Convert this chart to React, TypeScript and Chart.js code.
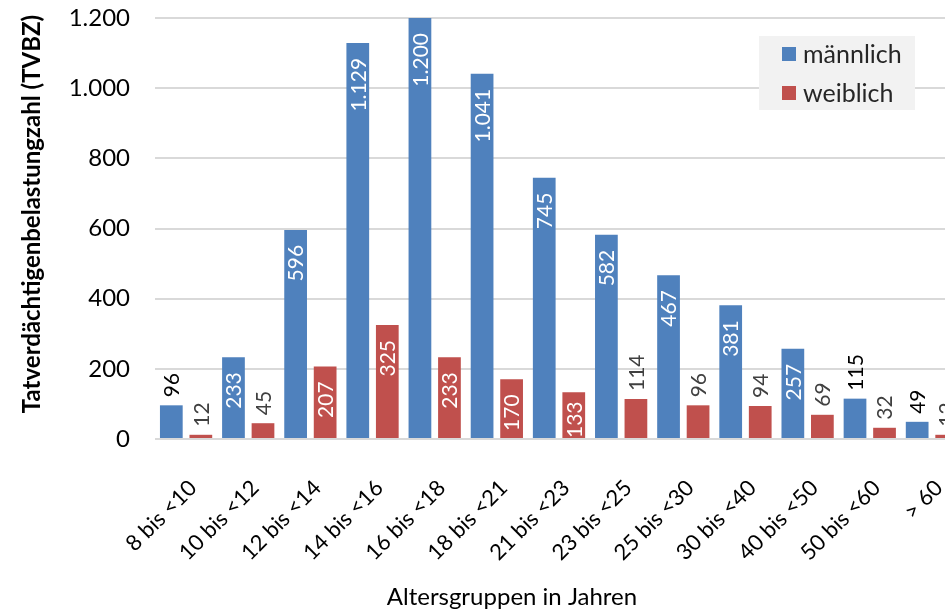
import React, { useEffect, useRef } from "react";
import { Chart, registerables } from "chart.js";

Chart.register(...registerables);

const categories = [
  "8 bis <10", "10 bis <12", "12 bis <14", "14 bis <16", "16 bis <18", "18 bis <21",
  "21 bis <23", "23 bis <25", "25 bis <30", "30 bis <40", "40 bis <50", "50 bis <60", "> 60",
];
const maleValues = [96, 233, 596, 1129, 1200, 1041, 745, 582, 467, 381, 257, 115, 49];
const femaleValues = [12, 45, 207, 325, 233, 170, 133, 114, 96, 94, 69, 32, 12];
const seriesNames = ["männlich", "weiblich"];
const yTicks = [0, 200, 400, 600, 800, 1000, 1200];
const yTitle = "Tatverdächtigenbelastungzahl (TVBZ)";
const xTitle = "Altersgruppen in Jahren";

const BLUE = "#4F81BD";
const RED = "#C0504D";
const FONT = "Lato, 'Open Sans', sans-serif";

const fmt = (v: number) => String(v).replace(/\B(?=(\d{3})+(?!\d))/g, ".");

const labelPlugin = {
  id: "barLabels",
  afterDatasetsDraw(chart: any) {
    const ctx = chart.ctx;
    ctx.save();
    ctx.font = `21px ${FONT}`;
    chart.data.datasets.forEach((ds: any, di: number) => {
      const meta = chart.getDatasetMeta(di);
      meta.data.forEach((el: any, i: number) => {
        const v = ds.data[i];
        const text = fmt(v);
        const tw = ctx.measureText(text).width;
        const barH = el.base - el.y;
        ctx.save();
        ctx.textBaseline = "middle";
        if (v >= 125) {
          const off = Math.max(6, Math.min(15, barH - tw));
          ctx.translate(el.x, el.y + off);
          ctx.rotate(-Math.PI / 2);
          ctx.textAlign = "right";
          ctx.fillStyle = "#ffffff";
        } else {
          ctx.translate(el.x, el.y - 8);
          ctx.rotate(-Math.PI / 2);
          ctx.textAlign = "left";
          ctx.fillStyle = di === 0 ? "#000000" : "#404040";
        }
        ctx.fillText(text, 0, 1);
        ctx.restore();
      });
    });
    ctx.restore();
  },
};

const decorPlugin = {
  id: "decor",
  afterDraw(chart: any) {
    const ctx = chart.ctx;
    ctx.save();
    // legend box
    ctx.fillStyle = "#f2f2f2";
    ctx.fillRect(759, 36, 156, 74);
    const colors = [BLUE, RED];
    const ys = [54, 93];
    ctx.font = `25px ${FONT}`;
    ctx.textBaseline = "middle";
    ctx.textAlign = "left";
    seriesNames.forEach((n, i) => {
      ctx.fillStyle = colors[i];
      ctx.fillRect(782, ys[i] - 7, 14, 14);
      ctx.fillStyle = "#262626";
      ctx.fillText(n, 803, ys[i] + 1);
    });
    // axis titles
    ctx.fillStyle = "#000000";
    ctx.textAlign = "center";
    ctx.font = `24px ${FONT}`;
    ctx.fillText(xTitle, 512, 597);
    ctx.save();
    ctx.translate(32, 214);
    ctx.rotate(-Math.PI / 2);
    ctx.font = `bold 24px ${FONT}`;
    ctx.fillText(yTitle, 0, 0);
    ctx.restore();
    ctx.restore();
  },
};

export default function App() {
  const ref = useRef<HTMLCanvasElement | null>(null);
  useEffect(() => {
    if (!ref.current) return;
    const chart = new Chart(ref.current, {
      type: "bar",
      data: {
        labels: categories,
        datasets: [
          { label: seriesNames[0], data: maleValues, backgroundColor: BLUE, borderWidth: 0 },
          { label: seriesNames[1], data: femaleValues, backgroundColor: RED, borderWidth: 0 },
        ],
      },
      plugins: [labelPlugin, decorPlugin],
      options: {
        responsive: false,
        animation: false,
        layout: { padding: { top: 18, left: 0, right: 0, bottom: 0 } },
        datasets: { bar: { categoryPercentage: 0.95, barPercentage: 0.77 } } as any,
        plugins: { legend: { display: false }, tooltip: { enabled: false } },
        scales: {
          x: {
            grid: { display: false, drawTicks: false },
            border: { display: false },
            ticks: {
              minRotation: 45,
              maxRotation: 45,
              padding: 36,
              labelOffset: 7,
              color: "#000000",
              font: { family: FONT, size: 22 },
            },
            afterFit(scale: any) {
              scale.height = 173;
              scale.paddingLeft = 0;
              scale.paddingRight = 0;
            },
          },
          y: {
            min: 0,
            max: 1200,
            afterBuildTicks(scale: any) {
              scale.ticks = yTicks.map((v) => ({ value: v }));
            },
            grid: { color: "#d9d9d9", lineWidth: 2, drawTicks: false },
            border: { display: false },
            ticks: {
              padding: 25,
              color: "#000000",
              font: { family: FONT, size: 24 },
              callback: (v: any) => fmt(Number(v)),
            },
            afterFit(scale: any) {
              scale.width = 155;
              scale.paddingTop = 0;
              scale.paddingBottom = 0;
            },
          },
        },
      },
    });
    return () => chart.destroy();
  }, []);
  return (
    <div style={{ position: "fixed", left: 0, top: 0, width: 945, height: 612, overflow: "hidden", background: "#ffffff" }}>
      <canvas ref={ref} width={963} height={612} style={{ display: "block", width: 963, height: 612 }} />
    </div>
  );
}
